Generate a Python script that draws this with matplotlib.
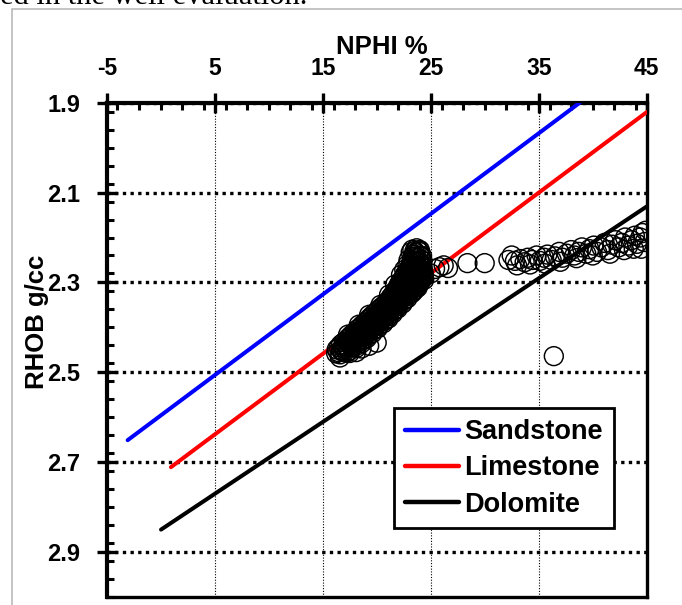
#!/usr/bin/env python3
"""Density-neutron crossplot (RHOB vs NPHI) with lithology lines."""

import matplotlib

matplotlib.use("Agg")
import matplotlib.pyplot as plt
from matplotlib.patches import Rectangle
from matplotlib.ticker import MultipleLocator

plt.rcParams["font.family"] = ["Liberation Sans", "DejaVu Sans"]
plt.rcParams["font.weight"] = "bold"

# lithology lines (NPHI %, RHOB g/cc)
sand_x = [-3.06, 38.8]
sand_y = [2.651, 1.90]
lime_x = [0.95, 45.0]
lime_y = [2.711, 1.921]
dolo_x = [0.03, 45.0]
dolo_y = [2.85, 2.131]

# log samples: dense band 16-25 %
band_x = [
    16.25, 16.62, 17.00, 17.50,
    16.30, 16.70, 17.10, 17.45,
    16.70, 17.10, 17.45, 17.95,
    17.25, 17.60, 18.00, 18.40,
    17.70, 18.10, 18.50, 18.95,
    18.20, 18.55, 18.95, 19.40,
    18.70, 19.10, 19.50, 19.95,
    19.20, 19.60, 20.00, 20.45,
    19.65, 20.05, 20.45, 20.90,
    20.15, 20.55, 20.95, 21.30,
    20.70, 21.05, 21.40, 21.75,
    21.15, 21.50, 21.85, 22.20,
    21.50, 21.90, 22.25, 22.65,
    21.80, 22.15, 22.50, 22.85, 23.20,
    22.05, 22.40, 22.80, 23.15, 23.55,
    22.35, 22.70, 23.05, 23.40, 23.75, 24.10,
    22.60, 23.00, 23.40, 23.75, 24.10,
    22.90, 23.30, 23.70, 24.10,
    23.20, 23.60, 24.05,
    23.25, 23.65, 24.05,
    23.45, 24.00,
    23.30, 23.70, 24.00,
    16.50, 16.90, 17.30, 17.70, 18.10,
    16.95, 17.40, 17.80, 18.20, 18.60,
    17.45, 17.85, 18.30, 18.70, 19.10,
    17.95, 18.35, 18.75, 19.15, 19.60,
    18.45, 18.85, 19.25, 19.70, 20.10,
    18.95, 19.35, 19.75, 20.20, 20.60,
    19.40, 19.80, 20.25, 20.70, 21.10,
    19.90, 20.30, 20.70, 21.10, 21.50,
    20.40, 20.80, 21.20, 21.55, 21.95,
    20.90, 21.30, 21.65, 22.00, 22.40,
    21.30, 21.70, 22.05, 22.45, 22.85,
    21.65, 22.05, 22.45, 22.85, 23.25,
    21.95, 22.30, 22.65, 23.00, 23.40, 23.80,
    22.20, 22.55, 22.95, 23.30, 23.65, 24.05,
    22.50, 22.85, 23.20, 23.60, 23.95, 24.35,
    22.75, 23.15, 23.55, 23.95, 24.35,
    23.05, 23.45, 23.85, 24.25,
    23.20, 23.60, 24.00,
    23.30, 23.70, 24.10,
    23.15, 23.55, 23.95,
    16.45, 16.85, 17.25,
    16.90, 17.30, 17.70, 18.10,
    17.40, 17.80, 18.20, 18.60,
    17.90, 18.30, 18.70, 19.15,
    18.40, 18.75, 19.15, 19.60,
    18.90, 19.30, 19.70, 20.15,
    19.40, 19.80, 20.20, 20.65,
    19.85, 20.25, 20.65, 21.10,
    20.35, 20.75, 21.15, 21.50,
    20.85, 21.25, 21.60, 21.95,
    21.30, 21.70, 22.05, 22.40,
    21.70, 22.10, 22.45, 22.85,
    21.95, 22.35, 22.70, 23.05, 23.40,
    22.20, 22.60, 23.00, 23.35, 23.75,
    22.50, 22.90, 23.25, 23.60, 23.95,
    22.80, 23.20, 23.60, 23.95, 24.30,
    23.10, 23.50, 23.90, 24.30,
    23.35, 23.80, 24.20,
    23.40, 23.85, 24.25,
    23.60, 24.20,
    23.50, 23.90,
    17.35, 18.35, 19.30, 20.35, 21.15, 21.70,
    18.80, 19.80, 20.85, 21.70, 22.60, 23.55, 24.40,
    22.25, 22.55, 22.85, 22.95,
    16.60, 18.10, 18.60, 19.30, 20.00,
]
band_y = [
    2.458, 2.460, 2.455, 2.457,
    2.449, 2.451, 2.448, 2.452,
    2.438, 2.440, 2.437, 2.439,
    2.427, 2.429, 2.426, 2.428,
    2.416, 2.418, 2.415, 2.417,
    2.405, 2.407, 2.404, 2.406,
    2.394, 2.396, 2.393, 2.395,
    2.383, 2.385, 2.382, 2.384,
    2.372, 2.374, 2.371, 2.373,
    2.361, 2.363, 2.360, 2.362,
    2.350, 2.352, 2.349, 2.351,
    2.339, 2.341, 2.338, 2.340,
    2.327, 2.329, 2.326, 2.328,
    2.316, 2.318, 2.315, 2.317, 2.316,
    2.305, 2.307, 2.304, 2.306, 2.305,
    2.294, 2.296, 2.293, 2.295, 2.294, 2.293,
    2.283, 2.285, 2.282, 2.284, 2.283,
    2.272, 2.274, 2.271, 2.273,
    2.261, 2.263, 2.260,
    2.250, 2.252, 2.249,
    2.239, 2.240,
    2.227, 2.224, 2.228,
    2.444, 2.445, 2.443, 2.444, 2.446,
    2.433, 2.434, 2.432, 2.433, 2.435,
    2.422, 2.423, 2.421, 2.422, 2.424,
    2.411, 2.412, 2.410, 2.411, 2.413,
    2.400, 2.401, 2.399, 2.400, 2.402,
    2.389, 2.390, 2.388, 2.389, 2.391,
    2.378, 2.379, 2.377, 2.378, 2.380,
    2.367, 2.368, 2.366, 2.367, 2.369,
    2.356, 2.357, 2.355, 2.356, 2.358,
    2.345, 2.346, 2.344, 2.345, 2.347,
    2.333, 2.334, 2.332, 2.333, 2.335,
    2.322, 2.323, 2.321, 2.322, 2.324,
    2.311, 2.312, 2.310, 2.311, 2.313, 2.311,
    2.300, 2.301, 2.299, 2.300, 2.302, 2.300,
    2.289, 2.290, 2.288, 2.289, 2.291, 2.289,
    2.278, 2.279, 2.277, 2.278, 2.280,
    2.267, 2.268, 2.266, 2.267,
    2.256, 2.257, 2.255,
    2.244, 2.245, 2.243,
    2.233, 2.234, 2.232,
    2.455, 2.454, 2.456,
    2.441, 2.442, 2.440, 2.441,
    2.430, 2.431, 2.429, 2.430,
    2.419, 2.420, 2.418, 2.419,
    2.408, 2.409, 2.407, 2.408,
    2.397, 2.398, 2.396, 2.397,
    2.386, 2.387, 2.385, 2.386,
    2.375, 2.376, 2.374, 2.375,
    2.364, 2.365, 2.363, 2.364,
    2.353, 2.354, 2.352, 2.353,
    2.342, 2.343, 2.341, 2.342,
    2.330, 2.331, 2.329, 2.330,
    2.319, 2.320, 2.318, 2.319, 2.320,
    2.308, 2.309, 2.307, 2.308, 2.309,
    2.297, 2.298, 2.296, 2.297, 2.298,
    2.286, 2.287, 2.285, 2.286, 2.287,
    2.275, 2.276, 2.274, 2.275,
    2.264, 2.265, 2.263,
    2.253, 2.254, 2.252,
    2.242, 2.241,
    2.230, 2.229,
    2.416, 2.394, 2.372, 2.350, 2.327, 2.305,
    2.427, 2.405, 2.383, 2.361, 2.339, 2.316, 2.294,
    2.283, 2.272, 2.261, 2.250,
    2.467, 2.455, 2.447, 2.441, 2.434,
]

# log samples: sparse tail 25-45 %
tail_x = [
    25.0, 25.4, 25.8, 26.2, 26.6, 28.4, 30.0,
    32.2, 32.8, 33.3, 33.7, 34.0, 34.4, 34.8, 35.1, 35.5, 35.8,
    36.2, 36.5, 36.9, 37.2, 37.6, 38.0, 38.3, 38.7, 39.0, 39.4,
    39.7, 40.1, 40.4, 40.8, 41.1, 41.4, 41.8, 42.1, 42.4, 42.7,
    43.0, 43.3, 43.6, 43.9, 44.1, 44.4, 44.6, 44.8, 44.9, 44.5,
    43.8, 42.9, 41.6, 40.0, 38.5, 37.0, 35.6, 34.2, 33.0, 32.5,
    36.4,
]
tail_y = [
    2.280, 2.270, 2.266, 2.262, 2.268, 2.257, 2.257,
    2.250, 2.252, 2.248, 2.255, 2.245, 2.250, 2.240, 2.252, 2.245, 2.238,
    2.250, 2.242, 2.232, 2.245, 2.236, 2.228, 2.240, 2.232, 2.222, 2.236,
    2.226, 2.218, 2.232, 2.222, 2.212, 2.228, 2.216, 2.206, 2.222, 2.212,
    2.200, 2.218, 2.206, 2.196, 2.214, 2.200, 2.190, 2.210, 2.185, 2.225,
    2.225, 2.228, 2.236, 2.240, 2.246, 2.254, 2.258, 2.260, 2.262, 2.240,
    2.464,
]

x_ticks = [-5, 5, 15, 25, 35, 45]
y_ticks = [1.9, 2.1, 2.3, 2.5, 2.7, 2.9]

W, H = 682, 605
fig = plt.figure(figsize=(W / 100, H / 100), dpi=100)

# page frame and the clipped caption line above the chart
fig.add_artist(Rectangle((11.5 / W, -0.1), 1.2, 1.1 - 8.5 / H, transform=fig.transFigure,
                         fill=False, edgecolor="#b4b4b4", linewidth=1.1))
fig.text(0.0, 1 - 4 / H, "ed in the well evaluation.", family="Liberation Serif",
         fontweight="normal", fontsize=22, va="baseline", ha="left")

ax = fig.add_axes([106.7 / W, (H - 597) / H, 540 / W, 494.3 / H])

ax.plot(sand_x, sand_y, color="#0000ff", lw=2.9, solid_capstyle="round", label="Sandstone", zorder=3)
ax.plot(lime_x, lime_y, color="#ff0000", lw=2.9, solid_capstyle="round", label="Limestone", zorder=3)
ax.plot(dolo_x, dolo_y, color="black", lw=2.9, solid_capstyle="round", label="Dolomite", zorder=3)
ax.scatter(band_x + tail_x, band_y + tail_y, s=185, facecolors="none", edgecolors="black",
           linewidths=1.05, zorder=4)

ax.set_xlim(-5, 45)
ax.set_ylim(3.0, 1.9)
ax.set_xticks(x_ticks)
ax.set_yticks(y_ticks)
ax.xaxis.set_minor_locator(MultipleLocator(2))
ax.yaxis.set_minor_locator(MultipleLocator(0.04))
ax.xaxis.tick_top()
ax.xaxis.set_label_position("top")
ax.set_xticklabels([str(v) for v in x_ticks])
ax.set_yticklabels([f"{v:.1f}" for v in y_ticks])

ax.tick_params(axis="x", which="major", direction="inout", length=14, width=2.4,
               labelsize=16.5, pad=9)
ax.tick_params(axis="y", which="major", direction="inout", length=14, width=2.4,
               labelsize=17, pad=12)
ax.tick_params(which="minor", direction="in", length=5, width=2.2)
ax.tick_params(axis="x", which="both", bottom=False, top=True)
ax.tick_params(axis="y", which="both", left=True, right=False)

for side in ["left", "top"]:
    ax.spines[side].set_linewidth(3.0)
for side in ["right", "bottom"]:
    ax.spines[side].set_linewidth(2.4)

ax.yaxis.grid(True, which="major", color="black", lw=2.4, linestyle=(0, (1, 1.3)),
              dash_capstyle="butt", zorder=1)
ax.xaxis.grid(True, which="major", color="black", lw=0.8, linestyle=(0, (1, 1.5)), zorder=1)
ax.set_axisbelow(True)

ax.set_xlabel("NPHI %", fontsize=18.5, fontweight="bold", va="bottom")
ax.xaxis.set_label_coords(0.51, 1.088)
ax.set_ylabel("RHOB g/cc", fontsize=18.5, fontweight="bold")
ax.yaxis.set_label_coords(-0.106, 0.556)

leg = ax.legend(loc="upper left", bbox_to_anchor=(0.532, 0.382), borderaxespad=0,
                fontsize=19.5, handlelength=2.0, handletextpad=0.2, labelspacing=0.38,
                borderpad=0.4, fancybox=False, framealpha=1, edgecolor="black")
leg.get_frame().set_linewidth(2.0)
for line in leg.get_lines():
    line.set_linewidth(3.2)

fig.savefig("out.png", dpi=100)
